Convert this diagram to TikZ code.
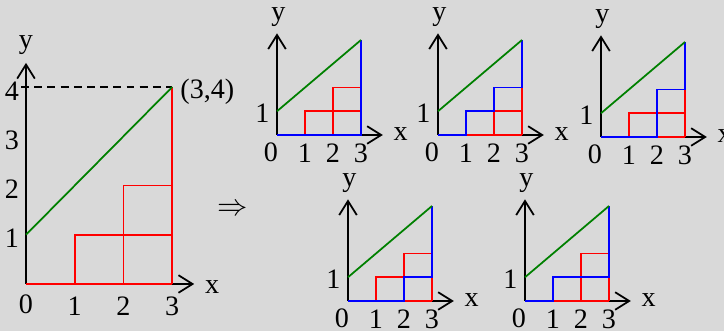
\documentclass[tikz,border=0pt]{standalone}
\usepackage{fontspec}
\setmainfont{Liberation Serif}
\usetikzlibrary{arrows.meta}
\definecolor{bggray}{RGB}{217,217,217}
\definecolor{dgreen}{RGB}{0,128,0}
\tikzset{
  axis/.style={line width=1pt, -{Straight Barb[length=8pt,width=10pt]}},
  redline/.style={red, line width=1.1pt},
  bluepath/.style={blue, line width=1.1pt},
  slope/.style={dgreen, line width=1pt},
  lbl/.style={inner sep=0pt, font=\fontsize{16}{19}\selectfont}
}
\begin{document}
\begin{tikzpicture}[line join=miter]
  \useasboundingbox (0,0) rectangle (14.48,6.62);
  \fill[bggray] (0,0) rectangle (14.48,6.62);
  % large lattice
  \begin{scope}[shift={(0.52,0.94)}, x=0.975cm, y=0.985cm]
    \coordinate (O) at (0,0);
    \coordinate (Y) at (0,4.49);
    \coordinate (X) at (3.45,0);
    \coordinate (P) at (3,4);
    \coordinate (Q) at (0,1);
    \draw[axis] (O) -- (Y);
    \draw[axis] (O) -- (X);
    \draw[dashed, line width=0.8pt, dash pattern=on 4.5pt off 3pt] (-0.1,4) -- (P);
    \draw[redline] (O) -- (3,0);
    \draw[redline] (1,0) -- (1,1) -- (3,1);
    \draw[redline] (2,0) -- (2,2) -- (3,2);
    \draw[redline] (3,0) -- (P);
    \draw[slope] (Q) -- (P);
    \node[lbl] (ylab) at (0,4.85) {y};
    \node[lbl] (xlab) at (3.82,-0.06) {x};
    \node[lbl] (pt) at (3.72,3.9) {(3,4)};
    \node[lbl] (n0) at (0,-0.41) {0};
    \foreach \i in {1,2,3}
      \node[lbl] (x\i) at (\i,-0.45) {\i};
    \foreach \i in {1,2,3,4}
      \node[lbl] (y\i) at (-0.29,\i-0.08) {\i};
    \node[lbl] (imp) at (4.23,1.5) {$\Rightarrow$};
  \end{scope}
  % the five paths
  \foreach \sx/\sy/\bp in {
      5.54/3.92/{(0,0) -- (3,0) -- (3,4)},
      8.76/3.92/{(0,0) -- (1,0) -- (1,1) -- (2,1) -- (2,2) -- (3,2) -- (3,4)},
      12.02/3.88/{(0,0) -- (2,0) -- (2,2) -- (3,2) -- (3,4)},
      6.96/0.60/{(0,0) -- (2,0) -- (2,1) -- (3,1) -- (3,4)},
      10.50/0.60/{(0,0) -- (1,0) -- (1,1) -- (3,1) -- (3,4)}} {
    \begin{scope}[shift={(\sx,\sy)}, x=0.56cm, y=0.475cm]
      \coordinate (o) at (0,0);
      \coordinate (ya) at (0,4.28);
      \coordinate (xa) at (3.78,0);
      \draw[axis] (o) -- (ya);
      \draw[axis] (o) -- (xa);
      \draw[redline] (o) -- (3,0);
      \draw[redline] (1,0) -- (1,1) -- (3,1);
      \draw[redline] (2,0) -- (2,2) -- (3,2);
      \draw[redline] (3,0) -- (3,4);
      \draw[bluepath] \bp;
      \draw[slope] (0,1) -- (3,4);
      \node[lbl] (yl) at (0.05,4.95) {y};
      \node[lbl] (xl) at (4.42,0.02) {x};
      \node[lbl] (one) at (-0.52,0.92) {1};
      \node[lbl] (zero) at (-0.22,-0.72) {0};
      \foreach \i in {1,2,3}
        \node[lbl] (t\i) at (\i,-0.78) {\i};
    \end{scope}
  }
\end{tikzpicture}
\end{document}
